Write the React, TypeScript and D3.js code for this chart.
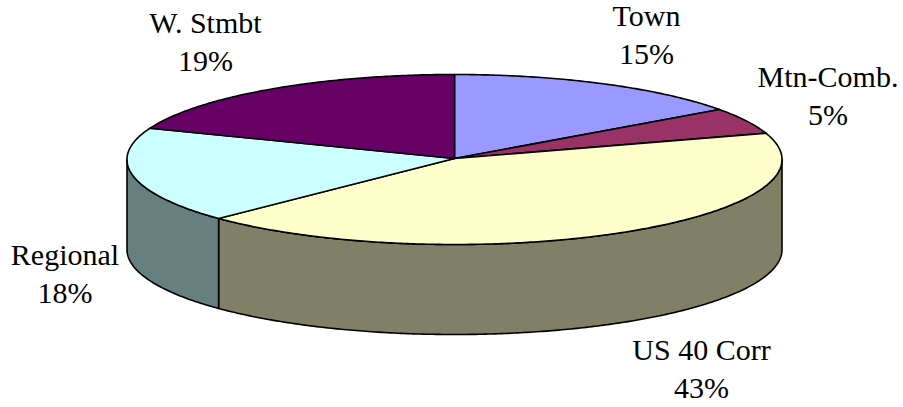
import { useMemo } from "react";
import * as d3 from "d3";

const categories = ["Town", "Mtn-Comb.", "US 40 Corr", "Regional", "W. Stmbt"];
// printed labels are rounded; the wall edge sits a little before 63%
const values = [15, 5, 42.8, 18.2, 19];
const topColors = ["#9999ff", "#993366", "#ffffcc", "#ccffff", "#660066"];
const sideColors = ["#666699", "#662244", "#808066", "#668080", "#330033"];
const labelX = [646.5, 828, 701.5, 65, 205.5];
const labelY = [26, 87, 360, 265, 33];

const W = 903;
const H = 407;
const cx = 454.5;
const cy = 159.5;
const rx = 327.5;
const ry = 85;
const depth = 90;

const px = (a: number) => cx + rx * Math.sin(a);
const py = (a: number) => cy - ry * Math.cos(a);

// samples an elliptical rim between two angles
function rim(a0: number, a1: number, dy = 0): [number, number][] {
  const n = Math.max(2, Math.ceil(Math.abs(a1 - a0) / 0.01));
  return d3.range(n + 1).map(i => {
    const a = a0 + ((a1 - a0) * i) / n;
    return [px(a), py(a) + dy] as [number, number];
  });
}

const line = d3.line();

export default function App() {
  const arcs = useMemo(() => d3.pie<number>().sort(null)(values), []);

  return (
    <svg width={W} height={H} style={{ position: "absolute", left: 0, top: 0, background: "#fff" }}>
      {arcs.map((d, i) => {
        // only the front half of the ellipse has a visible wall
        const s = Math.max(d.startAngle, Math.PI / 2);
        const e = Math.min(d.endAngle, (3 * Math.PI) / 2);
        if (e <= s) return null;
        const pts = [...rim(s, e), ...rim(e, s, depth)];
        return <path key={i} d={line(pts) + "Z"} fill={sideColors[i]} stroke="#000" strokeWidth={1.6} strokeLinejoin="round" />;
      })}
      {arcs.map((d, i) => {
        const pts: [number, number][] = [[cx, cy - 1], ...rim(d.startAngle, d.endAngle)];
        return <path key={i} d={line(pts) + "Z"} fill={topColors[i]} stroke="#000" strokeWidth={1.6} strokeLinejoin="round" />;
      })}
      {categories.map((c, i) => (
        <text key={c} textAnchor="middle" fontFamily="'Liberation Serif', serif" fontSize={30} fill="#000">
          <tspan x={labelX[i]} y={labelY[i]}>{c}</tspan>
          <tspan x={labelX[i]} y={labelY[i] + 38}>{Math.round(values[i])}%</tspan>
        </text>
      ))}
    </svg>
  );
}
